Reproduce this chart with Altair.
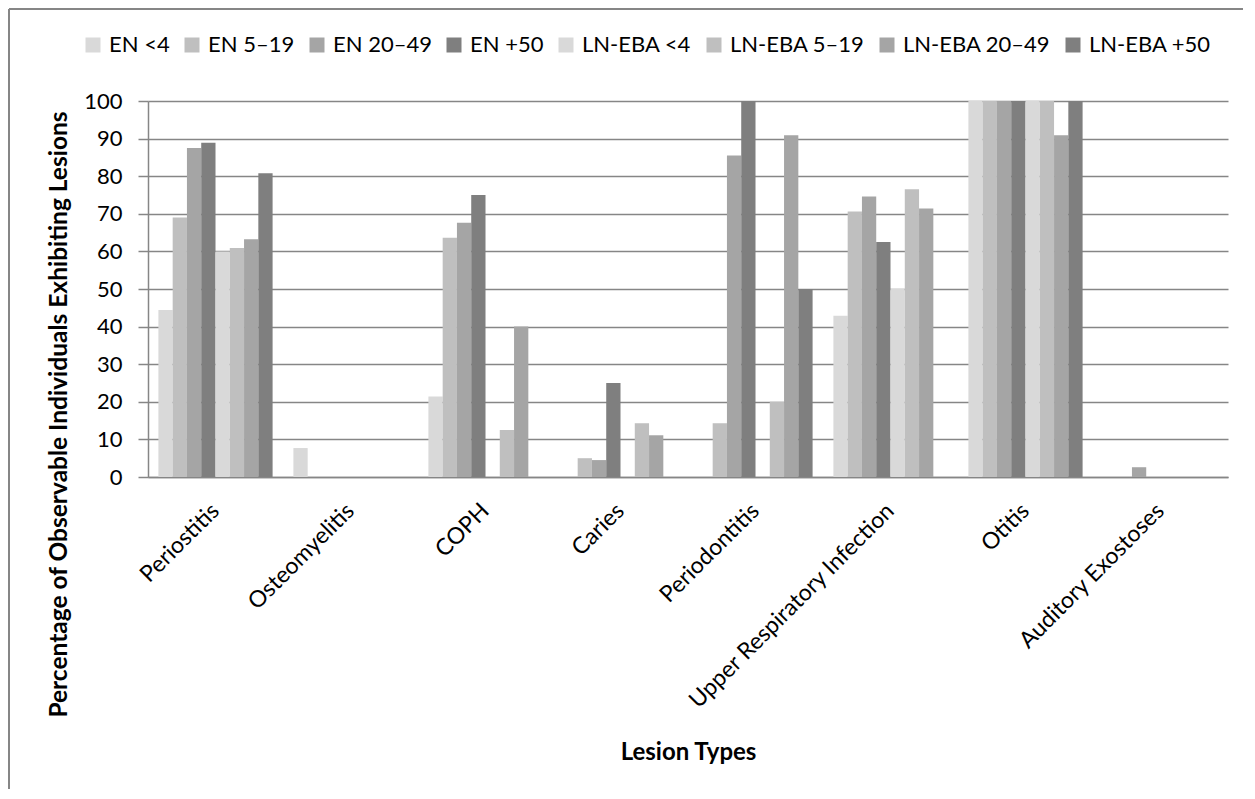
import altair as alt
import pandas as pd

categories = ["Periostitis", "Osteomyelitis", "COPH", "Caries", "Periodontitis",
              "Upper Respiratory Infection", "Otitis", "Auditory Exostoses"]
series = ["EN <4", "EN 5–19", "EN 20–49", "EN +50",
          "LN-EBA <4", "LN-EBA 5–19", "LN-EBA 20–49", "LN-EBA +50"]
colors = ["#D9D9D9", "#BFBFBF", "#A5A5A5", "#7F7F7F",
          "#D9D9D9", "#BFBFBF", "#A5A5A5", "#7F7F7F"]

en_lt4 = [44.4, 7.7, 21.4, 0, 0, 42.9, 100, 0]
en_5_19 = [69.0, 0, 63.6, 5.0, 14.3, 70.6, 100, 0]
en_20_49 = [87.5, 0, 67.6, 4.5, 85.5, 74.6, 100, 2.6]
en_50 = [88.9, 0, 75.0, 25.0, 100, 62.5, 100, 0]
ln_lt4 = [60.0, 0, 0, 0, 0, 50.0, 100, 0]
ln_5_19 = [60.9, 0, 12.5, 14.3, 20.0, 76.5, 100, 0]
ln_20_49 = [63.2, 0, 40.0, 11.1, 90.9, 71.4, 90.9, 0]
ln_50 = [80.8, 0, 0, 0, 50.0, 0, 100, 0]

values = [en_lt4, en_5_19, en_20_49, en_50, ln_lt4, ln_5_19, ln_20_49, ln_50]

rows = []
for s, vals in zip(series, values):
    for c, v in zip(categories, vals):
        rows.append({"lesion": c, "series": s, "pct": v})
df = pd.DataFrame(rows)

FONT = "Lato"
GRAY = "#868686"

bars = alt.Chart(df).mark_bar().encode(
    x=alt.X("lesion:N", sort=categories,
            scale=alt.Scale(paddingInner=0.154, paddingOuter=0.077),
            axis=alt.Axis(title="Lesion Types", labelAngle=-45, labelAlign="right",
                          labelBaseline="middle", labelPadding=30, ticks=False,
                          labelLimit=0,
                          domainColor=GRAY, domainWidth=1.5,
                          labelFont=FONT, labelFontSize=23, labelColor="#000000",
                          titleFont=FONT, titleFontSize=24, titleFontWeight="bold",
                          titleColor="#000000", titleY=275, titleBaseline="middle")),
    xOffset=alt.XOffset("series:N", sort=series,
                        scale=alt.Scale(paddingInner=0, paddingOuter=0)),
    y=alt.Y("pct:Q", scale=alt.Scale(domain=[0, 100], nice=False),
            axis=alt.Axis(title="Percentage of Observable Individuals Exhibiting Lesions",
                          values=list(range(0, 101, 10)), grid=True, gridColor=GRAY,
                          gridWidth=1.5, domainColor=GRAY, domainWidth=1.5,
                          tickColor=GRAY, tickWidth=1.5, tickSize=10, labelPadding=16,
                          labelFont=FONT, labelFontSize=22, labelColor="#000000",
                          titleFont=FONT, titleFontSize=24.5, titleFontWeight="bold",
                          titleColor="#000000", titleX=-89, titleY=313,
                          titleAngle=-90, titleAlign="center", titleBaseline="middle")),
    color=alt.Color("series:N", sort=series,
                    scale=alt.Scale(domain=series, range=colors),
                    legend=alt.Legend(orient="none", legendX=-66, legendY=-67,
                                      direction="horizontal", title=None,
                                      symbolType="square", symbolSize=225,
                                      symbolStrokeWidth=0, labelFont=FONT,
                                      labelFontSize=22, labelColor="#000000",
                                      labelOffset=5, columnPadding=11)),
)

frame_df = pd.DataFrame({"k": [0]})
top_line = alt.Chart(frame_df).mark_rule(color=GRAY, strokeWidth=2).encode(
    x=alt.value(-139), x2=alt.value(1120), y=alt.value(-92))
left_line = alt.Chart(frame_df).mark_rule(color=GRAY, strokeWidth=2).encode(
    x=alt.value(-139), y=alt.value(-92), y2=alt.value(720))

chart = alt.layer(bars, top_line, left_line).properties(
    width=1080, height=376,
    autosize=alt.AutoSizeParams(type="none"),
    padding={"left": 140, "top": 93, "right": 15, "bottom": 312},
).configure_view(stroke=None)

chart.save("out.html", embed_options={"renderer": "svg", "actions": False})
